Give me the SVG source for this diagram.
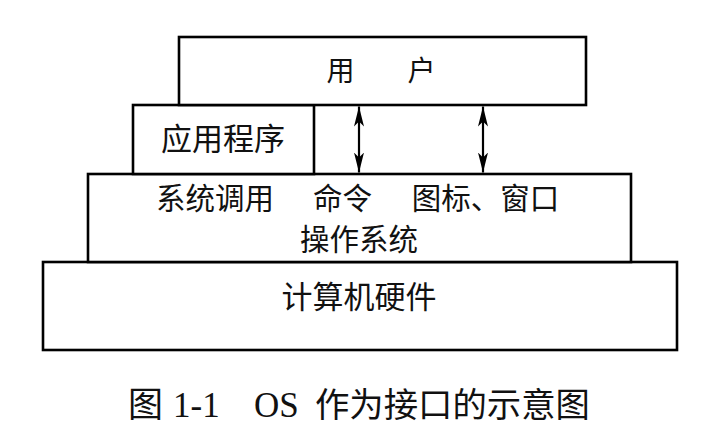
<svg xmlns="http://www.w3.org/2000/svg" width="720" height="430" viewBox="0 0 720 430">
<style>
.box{fill:#fff;stroke:#000;stroke-width:2.6}
.t{font-family:"Noto Sans CJK SC","Noto Sans",sans-serif;fill:#111;text-anchor:middle}
.cap{font-family:"Liberation Serif","Noto Sans CJK SC",serif;fill:#111}
.conn{stroke:#000;stroke-width:2.2;fill:none;marker-start:url(#ah);marker-end:url(#ah)}
</style>
<defs>
<marker id="ah" viewBox="0 0 20 10" refX="20" refY="5" markerWidth="20" markerHeight="10" markerUnits="userSpaceOnUse" orient="auto-start-reverse">
<path d="M0,0 L20,5 L0,10 L5,5 Z" fill="#000"/>
</marker>
</defs>
<rect width="720" height="430" fill="#fff"/>
<g id="hardware">
<rect class="box" x="43" y="262" width="634" height="88"/>
<text class="t" x="359" y="308" font-size="31">计算机硬件</text>
</g>
<g id="os">
<rect class="box" x="88" y="174" width="543" height="88"/>
<text class="t" x="215" y="209" font-size="29.5">系统调用</text>
<text class="t" x="342.5" y="209" font-size="29.5">命令</text>
<text class="t" x="485.5" y="209" font-size="29.5">图标、窗口</text>
<text class="t" x="359" y="250" font-size="29.5">操作系统</text>
</g>
<g id="app">
<rect class="box" x="133" y="105" width="181" height="69"/>
<text class="t" x="223" y="150" font-size="31">应用程序</text>
</g>
<g id="user">
<rect class="box" x="179" y="37" width="407" height="68"/>
<text class="t" x="340.5" y="81" font-size="28">用</text>
<text class="t" x="421.5" y="81" font-size="28">户</text>
</g>
<g id="connectors">
<line class="conn" x1="359" y1="106.5" x2="359" y2="172.5"/>
<line class="conn" x1="483" y1="106.5" x2="483" y2="172.5"/>
</g>
<g id="caption">
<text class="cap" x="128" y="417" font-size="35">图</text>
<text class="cap" x="173" y="417" font-size="35">1-1</text>
<text class="cap" x="254" y="417" font-size="35">OS</text>
<text class="cap" x="315" y="417" font-size="34" textLength="275" lengthAdjust="spacingAndGlyphs">作为接口的示意图</text>
</g>
</svg>
